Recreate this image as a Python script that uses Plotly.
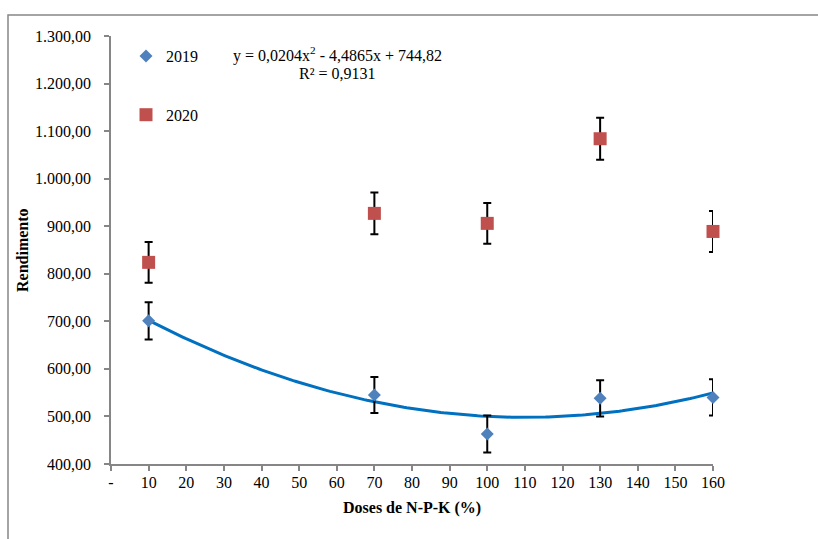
import numpy as np
import plotly.graph_objects as go

# Doses (% of N-P-K recommendation)
doses = [10, 70, 100, 130, 160]

# Yield per season and error bar half-widths
rend_2019 = [701, 545, 463, 538, 540]
err_2019 = [39, 38, 39, 38, 38]
rend_2020 = [824, 927, 906, 1084, 889]
err_2020 = [43, 44, 43, 44, 43]

# Quadratic trend of 2019: y = a x^2 + b x + c
trend_coef = [0.0204, -4.4865, 744.82]
trend_r2 = 0.9131

# Axis ticks
x_tickvals = [0, 10, 20, 30, 40, 50, 60, 70, 80, 90, 100, 110, 120, 130, 140, 150, 160]
x_ticktext = ["-", "10", "20", "30", "40", "50", "60", "70", "80", "90", "100",
              "110", "120", "130", "140", "150", "160"]
y_tickvals = [400, 500, 600, 700, 800, 900, 1000, 1100, 1200, 1300]
y_ticktext = ["400,00", "500,00", "600,00", "700,00", "800,00", "900,00",
              "1.000,00", "1.100,00", "1.200,00", "1.300,00"]

FONT = "Liberation Serif, Times New Roman, serif"
FS = 16
AXIS_GRAY = "#868686"

W, H = 818, 539
ML, MR, MT, MB = 111, 105, 36, 75
PW, PH = W - ML - MR, H - MT - MB


def px_x(px):
    return (px - ML) / PW


def px_y(py):
    return (H - MB - py) / PH


fig = go.Figure()

xs = np.linspace(min(doses), max(doses), 200)
ys = trend_coef[0] * xs ** 2 + trend_coef[1] * xs + trend_coef[2]
fig.add_trace(go.Scatter(
    x=xs, y=ys, mode="lines", line=dict(color="#0070C0", width=3),
    showlegend=False, hoverinfo="skip", cliponaxis=False,
))

fig.add_trace(go.Scatter(
    x=doses, y=rend_2019, mode="markers", name="2019", legendgroup="a",
    marker=dict(symbol="diamond", size=10, color="#4F81BD"),
    error_y=dict(type="data", array=err_2019, color="black", thickness=2, width=4),
    cliponaxis=False,
))
fig.add_trace(go.Scatter(
    x=doses, y=rend_2020, mode="markers", name="2020", legendgroup="b",
    marker=dict(symbol="square", size=13, color="#C0504D"),
    error_y=dict(type="data", array=err_2020, color="black", thickness=2, width=4),
    cliponaxis=False,
))

eq_text = (f"y = {str(trend_coef[0]).replace('.', ',')}x<sup>2</sup> - "
           f"{str(-trend_coef[1]).replace('.', ',')}x + {str(trend_coef[2]).replace('.', ',')}")
r2_text = f"R² = {str(trend_r2).replace('.', ',')}"

annotations = [
    dict(text=eq_text, x=px_x(337), y=px_y(55), xref="paper", yref="paper",
         showarrow=False, xanchor="center", yanchor="middle",
         font=dict(family=FONT, size=FS, color="black")),
    dict(text=r2_text, x=px_x(337), y=px_y(74), xref="paper", yref="paper",
         showarrow=False, xanchor="center", yanchor="middle",
         font=dict(family=FONT, size=FS, color="black")),
    dict(text="<b>Doses de N-P-K (%)</b>", x=px_x(412), y=px_y(508), xref="paper", yref="paper",
         showarrow=False, xanchor="center", yanchor="middle",
         font=dict(family=FONT, size=FS, color="black")),
    dict(text="<b>Rendimento</b>", x=px_x(22), y=px_y(250), xref="paper", yref="paper",
         showarrow=False, xanchor="center", yanchor="middle", textangle=-90,
         font=dict(family=FONT, size=FS, color="black")),
]

fig.update_layout(
    width=W, height=H,
    margin=dict(l=ML, r=MR, t=MT, b=MB),
    paper_bgcolor="white", plot_bgcolor="white",
    font=dict(family=FONT, size=FS, color="black"),
    annotations=annotations,
    showlegend=True,
    legend=dict(
        x=px_x(126), y=px_y(39), xanchor="left", yanchor="top",
        bgcolor="rgba(0,0,0,0)", font=dict(family=FONT, size=FS, color="black"),
        tracegroupgap=35, itemwidth=30,
    ),
    shapes=[dict(
        type="rect", xref="paper", yref="paper",
        x0=px_x(8), x1=px_x(840), y0=px_y(560), y1=px_y(15),
        line=dict(color=AXIS_GRAY, width=1.5), layer="below",
    )],
)

fig.update_xaxes(
    range=[0, 160], tickvals=x_tickvals, ticktext=x_ticktext,
    showgrid=False, zeroline=False, showline=True, linecolor=AXIS_GRAY, linewidth=1.5,
    ticks="outside", ticklen=5, tickcolor=AXIS_GRAY, tickwidth=1.5,
    tickfont=dict(family=FONT, size=FS, color="black"), ticklabelstandoff=-2,
)
fig.update_yaxes(
    range=[400, 1300], tickvals=y_tickvals, ticktext=y_ticktext,
    showgrid=False, zeroline=False, showline=True, linecolor=AXIS_GRAY, linewidth=1.5,
    ticks="outside", ticklen=5, tickcolor=AXIS_GRAY, tickwidth=1.5,
    tickfont=dict(family=FONT, size=FS, color="black"), ticklabelstandoff=10,
)

fig.write_html("out.html")
